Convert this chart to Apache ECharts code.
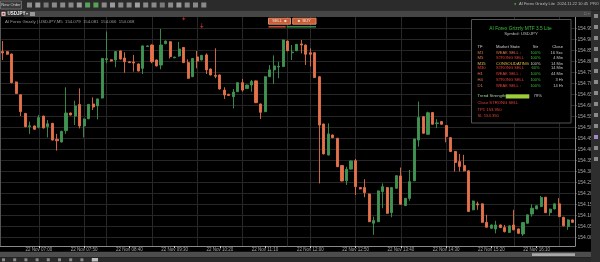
<!DOCTYPE html>
<html><head><meta charset="utf-8">
<script src="https://cdn.jsdelivr.net/npm/echarts@6/dist/echarts.min.js"></script>
<style>html,body{margin:0;padding:0;background:#000;overflow:hidden}#c{width:600px;height:262px}</style>
</head><body><div id="c"></div>
<script>
// ---- data (USDJPY, M5) ----
const categories = [];
for (let i = 0; i < 127; i++) {
  const m = 6 * 60 + 20 + i * 5;
  categories.push('22 Nov ' + String(Math.floor(m / 60)).padStart(2, '0') + ':' + String(m % 60).padStart(2, '0'));
}
const opens = [154.844,154.844,154.833,154.706,154.648,154.563,154.503,154.506,154.500,154.551,154.503,154.518,154.445,154.433,154.485,154.565,154.551,154.604,154.506,154.539,154.606,154.597,154.633,154.807,154.807,154.806,154.847,154.815,154.798,154.797,154.788,154.768,154.867,154.874,154.806,154.783,154.880,154.889,154.816,154.824,154.863,154.794,154.730,154.820,154.806,154.829,154.765,154.736,154.738,154.669,154.650,154.639,154.662,154.703,154.676,154.692,154.711,154.606,154.571,154.730,154.761,154.774,154.776,154.892,154.839,154.848,154.879,154.874,154.839,154.839,154.730,154.515,154.374,154.465,154.450,154.326,154.257,154.310,154.348,154.226,154.226,154.197,154.064,154.071,154.208,154.226,154.112,154.223,154.279,154.144,154.177,154.257,154.442,154.548,154.468,154.567,154.517,154.526,154.508,154.453,154.390,154.344,154.326,154.302,154.125,154.152,154.152,154.068,154.041,154.038,154.056,154.044,154.022,154.056,154.038,154.015,154.064,154.106,154.129,154.140,154.182,154.112,154.129,154.152,154.091,154.049,154.079];
const closes = [154.838,154.832,154.703,154.654,154.571,154.503,154.507,154.491,154.544,154.497,154.516,154.442,154.439,154.482,154.565,154.556,154.597,154.506,154.538,154.604,154.592,154.629,154.813,154.812,154.801,154.844,154.810,154.798,154.794,154.792,154.756,154.870,154.870,154.798,154.779,154.874,154.892,154.821,154.819,154.856,154.794,154.723,154.813,154.801,154.827,154.761,154.738,154.732,154.674,154.647,154.645,154.660,154.703,154.669,154.692,154.708,154.612,154.568,154.730,154.761,154.779,154.777,154.897,154.848,154.842,154.877,154.874,154.832,154.832,154.726,154.510,154.379,154.470,154.453,154.321,154.256,154.309,154.347,154.230,154.220,154.203,154.071,154.076,154.211,154.230,154.109,154.226,154.280,154.150,154.177,154.253,154.447,154.544,154.473,154.566,154.514,154.520,154.514,154.458,154.390,154.340,154.322,154.302,154.117,154.165,154.147,154.068,154.046,154.056,154.056,154.044,154.026,154.052,154.034,154.018,154.067,154.102,154.132,154.143,154.181,154.112,154.128,154.152,154.094,154.052,154.079,154.068];
const lows = [154.806,154.830,154.700,154.652,154.551,154.500,154.470,154.489,154.495,154.495,154.454,154.440,154.394,154.431,154.470,154.554,154.510,154.495,154.454,154.537,154.579,154.536,154.631,154.791,154.799,154.773,154.808,154.748,154.792,154.753,154.754,154.742,154.865,154.791,154.777,154.764,154.878,154.813,154.814,154.821,154.792,154.720,154.728,154.768,154.804,154.742,154.736,154.723,154.672,154.629,154.643,154.586,154.660,154.662,154.674,154.662,154.610,154.538,154.569,154.728,154.697,154.723,154.774,154.846,154.806,154.846,154.836,154.783,154.776,154.724,154.245,154.377,154.372,154.451,154.319,154.254,154.238,154.308,154.192,154.218,154.182,154.069,154.011,154.069,154.132,154.107,154.091,154.221,154.148,154.142,154.166,154.255,154.412,154.471,154.465,154.512,154.496,154.512,154.432,154.388,154.299,154.299,154.300,154.115,154.123,154.125,154.066,154.044,154.039,154.018,154.042,154.022,154.020,154.032,154.016,154.006,154.062,154.094,154.127,154.137,154.110,154.097,154.127,154.092,154.050,154.034,154.066];
const highs = [154.892,154.846,154.835,154.708,154.650,154.565,154.526,154.508,154.556,154.553,154.533,154.520,154.470,154.484,154.682,154.567,154.621,154.677,154.540,154.606,154.636,154.631,154.815,154.935,154.809,154.846,154.849,154.841,154.800,154.829,154.790,154.872,154.872,154.877,154.808,154.947,154.894,154.891,154.821,154.888,154.865,154.809,154.815,154.847,154.829,154.836,154.767,154.859,154.740,154.682,154.652,154.674,154.705,154.720,154.694,154.715,154.713,154.608,154.732,154.783,154.827,154.798,154.899,154.894,154.874,154.879,154.897,154.876,154.859,154.841,154.732,154.517,154.518,154.467,154.452,154.328,154.321,154.349,154.356,154.228,154.264,154.199,154.094,154.213,154.245,154.228,154.228,154.282,154.317,154.179,154.306,154.449,154.617,154.550,154.571,154.569,154.537,154.528,154.510,154.455,154.392,154.379,154.375,154.304,154.167,154.162,154.154,154.102,154.058,154.075,154.058,154.056,154.054,154.125,154.040,154.069,154.104,154.150,154.145,154.188,154.184,154.130,154.154,154.178,154.093,154.082,154.081];
const signalIdx = [40, 44];
const signalPrice = [154.997, 154.962];
const bidPrice = 153.983;
const priceMin = 154.000, priceMax = 154.950, priceStep = 0.05;
const timeLabelStart = 8, timeLabelEvery = 10;
const vGridIdx = [8, 18, 23, 33, 43, 53, 63, 68, 78, 88, 98, 113, 123];

const panelTF = ['M1','M5','M15','M30','H1','H4','D1'];
const panelState = ['WEAK SELL \u2193','STRONG SELL','CONSOLIDATING','STRONG SELL','WEAK SELL \u2193','STRONG SELL','WEAK SELL \u2193'];
const panelPct = ['100%','100%','100%','60%','100%','100%','100%'];
const panelClose = ['16 Sec','4 Min','14 Min','14 Min','44 Min','3 Hr','14 Hr'];

// ---- layout ----
const FONT = '"Liberation Sans", Arial, sans-serif';
const LEFT = 0.4, RIGHT = 25;
const F_TOP = 17, F_BOTTOM = 246;
const P_TOP = 28.3, P_BOTTOM = 237.3;
const pxPerPrice = (P_BOTTOM - P_TOP) / (priceMax - priceMin);
const frameMin = priceMin - (F_BOTTOM - P_BOTTOM) / pxPerPrice;
const frameMax = priceMax + (P_TOP - F_TOP) / pxPerPrice;
const BULL = '#3f9452', BEAR = '#e3714a';

function T(x, y, text, fill, size, align, weight) {
  return {type:'text', x, y, silent:true, z:100,
    style:{text, fill, font:(weight||'normal') + ' ' + size + 'px ' + FONT,
      align:align||'left', verticalAlign:'middle', textAlign:align||'left', textVerticalAlign:'middle'}};
}
function R(x, y, w, h, fill, stroke, z) {
  return {type:'rect', silent:true, z:z||90, shape:{x, y, width:w, height:h},
    style:{fill:fill||'none', stroke:stroke||null, lineWidth:1}};
}

const g = [];
g.push(R(0, 0, 600, 10.5, '#2b2b2b'));
g.push(R(0.5, 1, 21, 8, '#3a3a3a', '#6a6a6a'));
g.push(T(11, 5, 'New Order', '#cfcfcf', 4, 'center'));
const iconCols = ['#8a8a8a','#9a9a9a','#7a7a7a','#8a8a8a','#8a8a8a','#888','#9a9a9a','#5aa05a','#5aa05a','#8a8a8a','#9a9a9a','#8a8a8a','#8a8a8a','#a0a0a0','#8a8a8a','#8a8a8a','#7a7a7a','#8a8a8a','#9a9a9a','#8a8a8a','#8a8a8a','#8a8a8a'];
iconCols.forEach((c, k) => g.push(R(27 + k * 8.3, 2.5, 5, 5, c)));
g.push(T(514, 4, '\u25CF', '#3fbf3f', 4));
g.push(T(519, 4, 'AI Forex Grizzly Lite  2024.11.22 10:45  PRO', '#bdbdbd', 4));
g.push(R(0, 10.5, 591, 6.5, '#464646'));
g.push(R(0, 10.8, 24, 6, '#2e2e2e'));
g.push(R(1.5, 11.8, 4, 4, '#e8e8e8'));
g.push(R(2.5, 12.8, 2, 2, '#d03030'));
g.push(T(7.5, 14, 'USDJPY', '#f0f0f0', 4.5, 'left', 'bold'));
g.push(T(25.5, 14, '\u25BE', '#cccccc', 4));
g.push(R(30, 12, 5, 4, '#9a9a9a'));
g.push(T(584, 13.8, '\u25A1 \u00D7', '#9a9a9a', 4));
g.push(R(591, 10.5, 9, 251.5, '#2e2e2e'));
for (let k = 0; k < 14; k++) g.push(R(594, 14 + k * 11, 4, 4, k === 11 ? '#a08ac8' : '#8a8a8a'));
g.push(R(0, 17, 1, 229, '#555555'));
g.push(R(0, 251.7, 591, 5.6, '#4d4d4d'));
g.push(R(532, 253.3, 43, 2.7, '#a8a8a8'));
g.push(R(0, 257.3, 591, 4.7, '#2a2a2a'));
for (let k = 0; k < 9; k++) g.push(R(2 + k * 11.2, 258.3, 3, 3, '#8a8a8a'));
g.push(R(92, 258, 6, 3.5, '#bbbbbb'));
g.push(T(5, 22.3, 'AI Forex Grizzly | USDJPY,M5  154.079  154.081  154.066  154.068', '#9c9c9c', 4.3));
g.push(R(268.5, 18.2, 22, 6, '#c65d38', '#e08a66', 95));
g.push(T(279.5, 21.2, 'SELL  \u25A0', '#f0e0d8', 4, 'center'));
g.push(R(292.7, 18.2, 23.3, 6, '#c65d38', '#e08a66', 95));
g.push(T(304.3, 21.2, '\u25A0  BUY', '#f0e0d8', 4, 'center'));
g.push(R(268.5, 26.1, 17.3, 1.4, '#d05a3a', null, 95));
g.push(R(286.7, 26.1, 29.3, 1.4, '#3c9a52', null, 95));
// info panel
g.push(R(471.5, 19.5, 99.5, 103.5, '#000000', '#555555', 95));
g.push(T(520.5, 29, 'AI Forex Grizzly MTF 3.5 Lite', '#3cbf3c', 4.8, 'center'));
g.push(T(521, 34.3, 'Symbol: USDJPY', '#bdbdbd', 4.3, 'center'));
g.push(T(477.5, 46.7, 'TF', '#d0d0d0', 4.2));
g.push(T(496, 46.7, 'Market State', '#d0d0d0', 4.2));
g.push(T(535.5, 46.7, 'Str', '#d0d0d0', 4.2, 'center'));
g.push(T(563, 46.7, 'Close', '#d0d0d0', 4.2, 'right'));
const rowY = [52.7, 57.7, 63.5, 68.3, 74.3, 80, 85.7];
const tfCol = ['#e07850','#e07850','#e8c040','#e8403a','#e07850','#e07850','#e07850'];
panelTF.forEach((tf, k) => {
  g.push(T(477.5, rowY[k], tf, tfCol[k], 4.2));
  g.push(T(496, rowY[k], panelState[k], k === 2 ? '#e8c040' : (k === 0 ? '#e07050' : '#e8403a'), 4));
  g.push(T(535.5, rowY[k], panelPct[k], k === 2 ? '#c8c8c8' : '#3cbf3c', 4, 'center'));
  g.push(T(563, rowY[k], panelClose[k], '#c4c4c4', 4, 'right'));
});
g.push(T(477.5, 96.2, 'Trend Strength:', '#9fd09f', 4.2));
g.push(R(505.7, 94.3, 23.6, 4.2, '#9ccc3a', null, 96));
g.push(T(533.5, 96.2, '79%', '#c4c4c4', 4.2));
g.push(T(477.5, 103.3, 'Close STRONG SELL', '#e8403a', 4.2));
g.push(T(477.5, 109.6, 'TP1 153.950', '#e8403a', 4.2));
g.push(T(477.5, 115.5, 'SL 154.350', '#e8403a', 4.2));

const candleData = opens.map((o, i) => [o, closes[i], lows[i], highs[i]]);
const signalData = signalIdx.map((ix, k) => [ix, signalPrice[k]]);

const chart = echarts.init(document.getElementById('c'), null, {renderer:'canvas'});
chart.setOption({
  animation:false,
  backgroundColor:'#000000',
  grid:[
    {left:LEFT, right:RIGHT, top:F_TOP, bottom:262 - F_BOTTOM, containLabel:false},
    {left:LEFT, right:RIGHT, top:P_TOP, bottom:262 - P_BOTTOM, containLabel:false}
  ],
  xAxis:[
    {type:'category', gridIndex:0, data:categories, boundaryGap:true,
      axisLine:{show:true, lineStyle:{color:'#8a8a8a', width:1}},
      axisTick:{show:true, alignWithLabel:true, length:2, lineStyle:{color:'#cfcfcf'},
        interval:(i) => i >= timeLabelStart && (i - timeLabelStart) % timeLabelEvery === 0},
      axisLabel:{show:true, color:'#a8a8a8', fontSize:4.5, fontFamily:FONT, margin:1.2,
        interval:(i) => i >= timeLabelStart && (i - timeLabelStart) % timeLabelEvery === 0},
      splitLine:{show:true, alignWithLabel:true, interval:(i) => vGridIdx.indexOf(i) >= 0,
        lineStyle:{color:'#282828', width:1}}
    },
    {type:'category', gridIndex:1, data:categories, show:false}
  ],
  yAxis:[
    {type:'value', gridIndex:0, position:'right', min:frameMin, max:frameMax, scale:true,
      axisLine:{show:true, lineStyle:{color:'#8a8a8a'}}, axisTick:{show:false},
      axisLabel:{show:false}, splitLine:{show:false}},
    {type:'value', gridIndex:1, position:'right', min:priceMin, max:priceMax, interval:priceStep,
      axisLine:{show:false}, axisTick:{show:true, length:1.5, lineStyle:{color:'#8a8a8a'}},
      axisLabel:{show:true, color:'#a8a8a8', fontSize:5, fontFamily:FONT, margin:2.5,
        formatter:(v) => v.toFixed(3)},
      splitLine:{show:true, lineStyle:{color:'#262626', width:1}}}
  ],
  series:[
    {type:'candlestick', xAxisIndex:0, yAxisIndex:0, data:candleData, barWidth:2.6,
      itemStyle:{color:BULL, color0:BEAR, borderColor:BULL, borderColor0:BEAR, borderWidth:0.9},
      markLine:{silent:true, symbol:'none', animation:false,
        lineStyle:{opacity:0},
        label:{show:true, position:'end', distance:0, formatter:() => bidPrice.toFixed(3),
          color:'#000', backgroundColor:'#3c9a52', fontSize:4.5, fontFamily:FONT, padding:[1.5,2,1.5,2]},
        data:[{yAxis:bidPrice}]}
    },
    {type:'scatter', xAxisIndex:0, yAxisIndex:0, data:signalData,
      symbol:'path://M4,0 L6,0 L6,6 L10,6 L5,11 L0,6 L4,6 Z', symbolSize:[3.5,5],
      itemStyle:{color:'#e03028'}, silent:true}
  ],
  graphic:{elements:g}
});
</script>
</body></html>
